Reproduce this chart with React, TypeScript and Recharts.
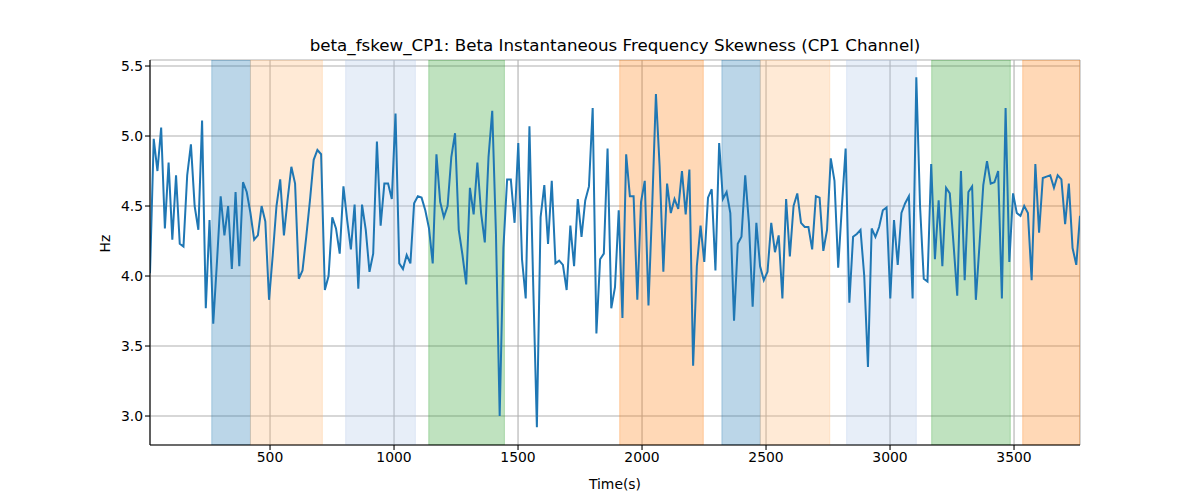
import React from 'react';
import { LineChart, Line, XAxis, YAxis, CartesianGrid, ReferenceArea } from 'recharts';

const TITLE = 'beta_fskew_CP1: Beta Instantaneous Frequency Skewness (CP1 Channel)';
const T_START = 16;
const T_STEP = 15;

const VALUES = [
  4.02, 4.98, 4.75, 5.06, 4.34, 4.81, 4.26, 4.72, 4.23, 4.21,
  4.72, 4.94, 4.50, 4.33, 5.11, 3.77, 4.40, 3.66, 4.10, 4.57,
  4.29, 4.50, 4.05, 4.60, 4.07, 4.67, 4.60, 4.45, 4.26, 4.29,
  4.50, 4.39, 3.83, 4.15, 4.50, 4.69, 4.29, 4.55, 4.78, 4.66,
  3.98, 4.04, 4.28, 4.54, 4.83, 4.90, 4.87, 3.90, 4.00, 4.42,
  4.34, 4.16, 4.64, 4.40, 4.19, 4.51, 3.91, 4.51, 4.33, 4.03,
  4.16, 4.96, 4.36, 4.66, 4.66, 4.55, 5.16, 4.09, 4.05, 4.15,
  4.09, 4.52, 4.57, 4.56, 4.47, 4.34, 4.09, 4.87, 4.53, 4.42,
  4.50, 4.85, 5.02, 4.33, 4.15, 3.94, 4.63, 4.44, 4.81, 4.45,
  4.24, 4.85, 5.18, 4.30, 3.00, 4.20, 4.69, 4.69, 4.38, 4.95,
  4.12, 3.84, 5.07, 3.95, 2.92, 4.42, 4.65, 4.23, 4.68, 4.09,
  4.11, 4.08, 3.90, 4.36, 4.07, 4.55, 4.28, 4.54, 4.64, 5.20,
  3.59, 4.12, 4.16, 4.91, 3.77, 3.92, 4.47, 3.70, 4.87, 4.57,
  4.57, 3.83, 4.53, 4.68, 3.79, 4.50, 5.30, 4.78, 4.03, 4.66,
  4.45, 4.55, 4.48, 4.75, 4.44, 4.76, 3.36, 4.07, 4.36, 4.10,
  4.56, 4.62, 4.04, 4.95, 4.55, 4.60, 4.45, 3.68, 4.23, 4.28,
  4.72, 4.38, 3.78, 4.38, 4.07, 3.97, 4.03, 4.38, 4.17, 4.29,
  3.84, 4.55, 4.14, 4.50, 4.59, 4.38, 4.35, 4.35, 4.19, 4.57,
  4.56, 4.18, 4.33, 4.84, 4.68, 4.06, 4.50, 4.91, 3.81, 4.28,
  4.30, 4.33, 4.00, 3.35, 4.34, 4.28, 4.35, 4.47, 4.49, 3.84,
  4.40, 4.08, 4.45, 4.52, 4.57, 3.84, 5.42, 4.50, 3.98, 3.96,
  4.80, 4.12, 4.54, 4.07, 4.63, 4.59, 4.23, 3.86, 4.75, 3.97,
  4.60, 4.64, 3.83, 4.23, 4.65, 4.82, 4.66, 4.67, 4.75, 3.84,
  5.20, 4.10, 4.59, 4.45, 4.43, 4.50, 4.45, 3.97, 4.80, 4.31,
  4.70, 4.71, 4.72, 4.63, 4.72, 4.69, 4.37, 4.66, 4.20, 4.08,
  4.43,
];

const SPAN_STARTS = [265, 421, 805, 1140, 1910, 2322, 2477, 2825, 3168, 3535];
const SPAN_ENDS = [421, 711, 1086, 1445, 2247, 2477, 2757, 3106, 3485, 3766];
const SPAN_COLORS = ['#1f77b4', '#ffbb78', '#aec7e8', '#2ca02c', '#ff7f0e', '#1f77b4', '#ffbb78', '#aec7e8', '#2ca02c', '#ff7f0e'];

const X_TICKS = [500, 1000, 1500, 2000, 2500, 3000, 3500];
const Y_TICKS = [3.0, 3.5, 4.0, 4.5, 5.0, 5.5];
const X_DOMAIN = [16, 3766];
const Y_DOMAIN = [2.793, 5.543];

const data = VALUES.map((v, i) => ({ t: T_START + i * T_STEP, v }));

const FONT = 'DejaVu Sans, sans-serif';
const tickStyle = { fill: '#000', fontSize: 13.9, fontFamily: FONT };

export default function App() {
  return (
    <div style={{ position: 'absolute', left: 0, top: 0, width: 1200, height: 500, background: '#fff', fontFamily: FONT }}>
      <div style={{ position: 'absolute', left: 150, top: 35, width: 930, textAlign: 'center', fontSize: 16.7, lineHeight: '20px', color: '#000' }}>
        {TITLE}
      </div>
      <LineChart width={1200} height={500} data={data} margin={{ top: 60, right: 120, bottom: 0, left: 0 }}>
        <CartesianGrid stroke="#b0b0b0" strokeWidth={1.1} />
        {SPAN_STARTS.map((s, i) => (
          <ReferenceArea
            key={i}
            x1={s}
            x2={SPAN_ENDS[i]}
            fill={SPAN_COLORS[i]}
            fillOpacity={0.3}
            stroke={SPAN_COLORS[i]}
            strokeOpacity={0.3}
            ifOverflow="hidden"
          />
        ))}
        <XAxis
          dataKey="t"
          type="number"
          domain={X_DOMAIN}
          ticks={X_TICKS}
          allowDataOverflow
          height={55}
          tickSize={5}
          tickMargin={2}
          tick={tickStyle}
          axisLine={{ stroke: '#000', strokeWidth: 1.1 }}
          tickLine={{ stroke: '#000', strokeWidth: 1.1 }}
          label={{ value: 'Time(s)', position: 'insideBottom', offset: 11, fill: '#000', fontSize: 13.9, fontFamily: FONT }}
        />
        <XAxis
          xAxisId="top"
          orientation="top"
          type="number"
          domain={X_DOMAIN}
          allowDataOverflow
          height={0}
          tick={false}
          tickLine={false}
          axisLine={{ stroke: '#000', strokeWidth: 1.1 }}
        />
        <YAxis
          type="number"
          domain={Y_DOMAIN}
          ticks={Y_TICKS}
          allowDataOverflow
          width={150}
          tickSize={5}
          tickMargin={2}
          tick={tickStyle}
          tickFormatter={(v: number) => v.toFixed(1)}
          axisLine={{ stroke: '#000', strokeWidth: 1.1 }}
          tickLine={{ stroke: '#000', strokeWidth: 1.1 }}
          label={{ value: 'Hz', angle: -90, position: 'insideLeft', offset: 105, fill: '#000', fontSize: 13.9, fontFamily: FONT }}
        />
        <YAxis
          yAxisId="right"
          orientation="right"
          type="number"
          domain={Y_DOMAIN}
          allowDataOverflow
          width={0}
          tick={false}
          tickLine={false}
          axisLine={{ stroke: '#000', strokeWidth: 1.1 }}
        />
        <Line
          type="linear"
          dataKey="v"
          stroke="#1f77b4"
          strokeWidth={2}
          dot={false}
          isAnimationActive={false}
        />
      </LineChart>
    </div>
  );
}
